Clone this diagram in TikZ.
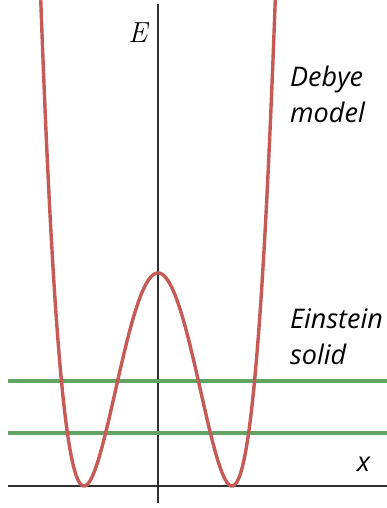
\documentclass[tikz,border=0pt]{standalone}
\usepackage{fontspec}
\newfontfamily\labfont{Open Sans}
\definecolor{curvered}{HTML}{C55A57}
\definecolor{levelgreen}{HTML}{62A462}
\definecolor{axisgray}{HTML}{303030}
\begin{document}
\begin{tikzpicture}[x=1pt,y=1pt,
  axisline/.style={draw=axisgray,line width=2.2pt},
  levelline/.style={draw=levelgreen,line width=3.4pt},
  potential/.style={draw=curvered,line width=3.4pt,line join=round},
  lab/.style={font=\labfont\itshape\fontsize{27}{36}\selectfont,align=left,anchor=base west,inner sep=0pt}]
\useasboundingbox (0,0) rectangle (387,508);
\clip (0,0) rectangle (387,508);
% axes
\coordinate (xl) at (8,22);
\coordinate (xr) at (387,22);
\coordinate (yb) at (158,5);
\coordinate (yt) at (158,504);
\draw[axisline] (xl) -- (xr);
\draw[axisline] (yb) -- (yt);
% Einstein levels
\coordinate (g1l) at (8,127);
\coordinate (g1r) at (387,127);
\coordinate (g2l) at (8,75);
\coordinate (g2r) at (387,75);
\draw[levelline] (g1l) -- (g1r);
\draw[levelline] (g2l) -- (g2r);
% double-well potential
\draw[potential] plot[domain=-1.6:1.6,samples=241,smooth,variable=\u]
  ({158+74*\u},{22+213*(\u*\u-1)*(\u*\u-1)});
% labels
\node[font=\itshape\fontsize{29}{32}\selectfont,anchor=base west,inner sep=0pt] (E) at (128,465) {E};
\node[lab] (debye) at (290,385) {Debye\\model};
\node[lab] (einstein) at (290,143) {Einstein\\solid};
\node[lab] (xlab) at (357,36) {x};
\end{tikzpicture}
\end{document}
